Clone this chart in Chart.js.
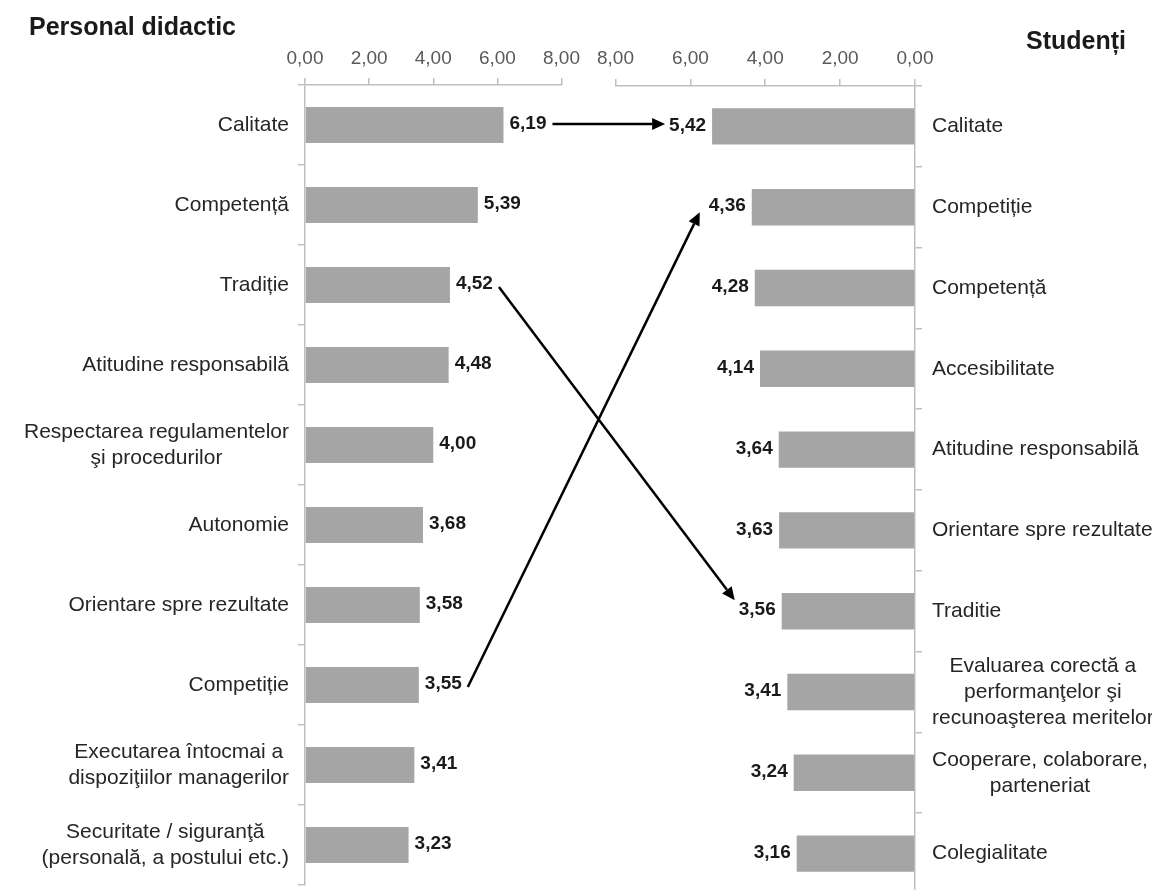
<!DOCTYPE html>
<html><head><meta charset="utf-8">
<script src="https://cdn.jsdelivr.net/npm/chart.js@4.4.1/dist/chart.umd.min.js"></script>
<style>
html,body{margin:0;padding:0;background:#fff;overflow:hidden;width:1152px;height:890px;}
#wrap{position:relative;width:1152px;height:890px;overflow:hidden;}
#cl{position:absolute;left:0;top:0;}
#cr{position:absolute;left:588px;top:0;}
#ov{position:absolute;left:0;top:0;pointer-events:none;}
</style></head><body>
<div id="wrap">
<canvas id="cl" width="588" height="890"></canvas>
<canvas id="cr" width="564" height="894"></canvas>
<canvas id="ov" width="1152" height="890"></canvas>
</div>
<script>
const staffTitle = 'Personal didactic';
const studentTitle = 'Studenți';
const staffCategories = [
  'Calitate',
  'Competență',
  'Tradiție',
  'Atitudine responsabilă',
  ['Respectarea regulamentelor', 'şi procedurilor'],
  'Autonomie',
  'Orientare spre rezultate',
  'Competiție',
  ['Executarea întocmai a', 'dispoziţiilor managerilor'],
  ['Securitate / siguranţă', '(personală, a postului etc.)']
];
const staffValues = [6.19, 5.39, 4.52, 4.48, 4.00, 3.68, 3.58, 3.55, 3.41, 3.23];
const studentCategories = [
  'Calitate',
  'Competiție',
  'Competență',
  'Accesibilitate',
  'Atitudine responsabilă',
  'Orientare spre rezultate',
  'Traditie',
  ['Evaluarea corectă a', 'performanţelor şi', 'recunoaşterea meritelor'],
  ['Cooperare, colaborare,', 'parteneriat'],
  'Colegialitate'
];
const studentValues = [5.42, 4.36, 4.28, 4.14, 3.64, 3.63, 3.56, 3.41, 3.24, 3.16];
const axisMin = 0, axisMax = 8, axisStep = 2;
// arrows: [index in staff list, index in student list]
const arrowPairs = [[0, 0], [2, 6], [7, 1]];

const FONT = '"Liberation Sans", Arial, sans-serif';
const fmt = v => v.toFixed(2).replace('.', ',');
const AXIS_COLOR = '#bfbfbf';

function catLabelPlugin(side) {
  return {
    id: 'catLabels' + side,
    afterDraw(chart) {
      const ctx = chart.ctx, ys = chart.scales.y, area = chart.chartArea;
      ctx.save();
      ctx.font = '21px ' + FONT;
      ctx.fillStyle = '#262626';
      ctx.textBaseline = 'middle';
      ctx.textAlign = 'center';
      chart.data.labels.forEach((lab, i) => {
        const lines = Array.isArray(lab) ? lab : [lab];
        const w = Math.max(...lines.map(l => ctx.measureText(l).width));
        const cy = ys.getPixelForTick(i);
        const cx = side === 'L' ? area.left - 16 - w / 2 : area.right + 17 + w / 2;
        lines.forEach((l, k) => ctx.fillText(l, cx, cy + (k - (lines.length - 1) / 2) * 26));
      });
      ctx.restore();
    }
  };
}
function valueLabelPlugin(side) {
  return {
    id: 'valLabels' + side,
    afterDatasetsDraw(chart) {
      const ctx = chart.ctx, meta = chart.getDatasetMeta(0), data = chart.data.datasets[0].data;
      ctx.save();
      ctx.font = 'bold 19px ' + FONT;
      ctx.fillStyle = '#1a1a1a';
      ctx.textBaseline = 'middle';
      ctx.textAlign = side === 'L' ? 'left' : 'right';
      meta.data.forEach((el, i) => {
        const x = side === 'L' ? el.x + 6 : el.x - 6;
        ctx.fillText(fmt(data[i]), x, el.y - 1);
      });
      ctx.restore();
    }
  };
}

function makeOptions(side) {
  const L = side === 'L';
  return {
    indexAxis: 'y',
    responsive: false,
    animation: false,
    layout: { padding: L ? { left: 29, right: 22, top: 0, bottom: 5 } : { left: 20, right: 26, top: 0, bottom: 0 } },
    plugins: {
      legend: { display: false },
      tooltip: { enabled: false },
      title: {
        display: true,
        text: L ? staffTitle : studentTitle,
        align: L ? 'start' : 'end',
        color: '#1a1a1a',
        font: { family: FONT, size: 25, weight: 'bold', lineHeight: 1.2 },
        padding: L ? { top: 13, bottom: 0 } : { top: 27, bottom: -13 }
      }
    },
    scales: {
      x: {
        position: 'top',
        reverse: !L,
        min: axisMin, max: axisMax,
        ticks: { stepSize: axisStep, color: '#595959', font: { family: FONT, size: 19 }, padding: L ? 8 : 9,
                 callback: v => fmt(v), maxRotation: 0, autoSkip: false },
        grid: { drawOnChartArea: false, drawTicks: true, tickLength: 7, color: AXIS_COLOR, lineWidth: 1.5 },
        border: { display: true, color: AXIS_COLOR, width: 1.5 },
        afterFit(s) { s.height = 42; }
      },
      y: {
        position: L ? 'left' : 'right',
        offset: true,
        ticks: { display: false },
        grid: { offset: true, drawOnChartArea: false, drawTicks: true, tickLength: 7, color: AXIS_COLOR, lineWidth: 1.5 },
        border: { display: true, color: AXIS_COLOR, width: 1.5 },
        afterFit(s) { s.width = L ? 276 : 211; }
      }
    }
  };
}

const leftChart = new Chart(document.getElementById('cl'), {
  type: 'bar',
  data: { labels: staffCategories, datasets: [{ data: staffValues, backgroundColor: '#a5a5a5', borderWidth: 0, barPercentage: 0.45, categoryPercentage: 1 }] },
  options: makeOptions('L'),
  plugins: [catLabelPlugin('L'), valueLabelPlugin('L')]
});
const rightChart = new Chart(document.getElementById('cr'), {
  type: 'bar',
  data: { labels: studentCategories, datasets: [{ data: studentValues, backgroundColor: '#a5a5a5', borderWidth: 0, barPercentage: 0.45, categoryPercentage: 1 }] },
  options: makeOptions('R'),
  plugins: [catLabelPlugin('R'), valueLabelPlugin('R')]
});

function drawArrows() {
  const ov = document.getElementById('ov');
  const ctx = ov.getContext('2d');
  const offR = 588;
  ctx.clearRect(0, 0, ov.width, ov.height);
  ctx.font = 'bold 19px ' + FONT;
  const mL = leftChart.getDatasetMeta(0).data, mR = rightChart.getDatasetMeta(0).data;
  arrowPairs.forEach(([li, ri]) => {
    const eL = mL[li], eR = mR[ri];
    const wL = ctx.measureText(fmt(staffValues[li])).width;
    const wR = ctx.measureText(fmt(studentValues[ri])).width;
    const diff = eR.y - eL.y;
    const horiz = Math.abs(diff) < 10;
    const x0 = eL.x + 6 + wL + 6;
    const y0 = horiz ? eL.y - 1 : eL.y + 2;
    const x1 = offR + eR.x - 6 - wR - (diff < 0 && !horiz ? 9 : 4);
    const y1 = horiz ? y0 : eR.y + (diff > 0 ? -11 : 5);
    const ang = Math.atan2(y1 - y0, x1 - x0);
    const hl = 13, hw = 6;
    const bx = x1 - hl * Math.cos(ang), by = y1 - hl * Math.sin(ang);
    ctx.save();
    ctx.strokeStyle = '#000';
    ctx.fillStyle = '#000';
    ctx.lineWidth = 2.5;
    ctx.beginPath();
    ctx.moveTo(x0, y0);
    ctx.lineTo(bx, by);
    ctx.stroke();
    ctx.beginPath();
    ctx.moveTo(x1, y1);
    ctx.lineTo(bx + hw * Math.sin(ang), by - hw * Math.cos(ang));
    ctx.lineTo(bx - hw * Math.sin(ang), by + hw * Math.cos(ang));
    ctx.closePath();
    ctx.fill();
    ctx.restore();
  });
}
drawArrows();
</script>
</body></html>
